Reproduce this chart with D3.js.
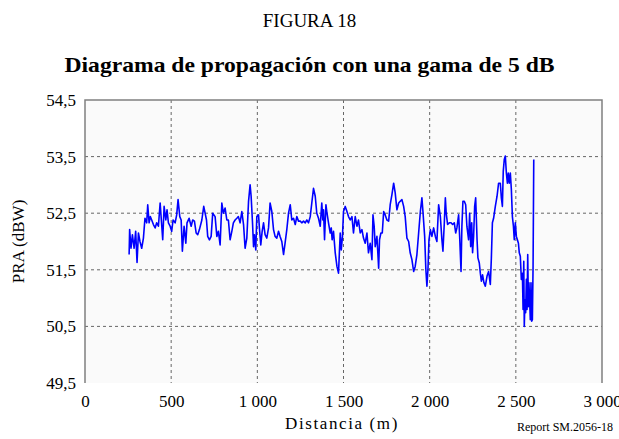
<!DOCTYPE html>
<html>
<head>
<meta charset="utf-8">
<script src="https://cdn.jsdelivr.net/npm/d3@7"></script>
<style>
  body { margin: 0; background: #fff; }
  svg { display: block; font-family: "Liberation Serif", "Times New Roman", serif; }
</style>
</head>
<body>
<svg id="chart"></svg>
<script>
// distance along the route (m) and received power (dBW)
const distancia = [
  256,259,267,275,285,294,302,310,319,329,339,348,358,364,372,379,387,397,407,416,
  426,436,443,451,459,469,476,484,494,503,511,523,532,540,550,558,565,575,585,592,
  604,616,625,635,645,654,664,678,689,697,705,712,722,732,741,
  755,765,774,784,794,803,813,823,832,842,852,861,871,881,890,900,910,920,929,939,
  949,958,964,972,978,983,991,997,1007,1012,1020,1028,1036,1045,1055,1065,1074,1084,1094,1103,
  1113,1123,1132,1142,1152,1161,1171,1181,1191,1200,1210,1220,1229,1239,1249,1258,1268,1278,1287,1297,
  1307,1316,1326,1336,1345,1355,
  1365,1374,1380,1384,1390,1398,1403,1413,1423,1429,1434,1442,1452,1462,1471,1481,1487,1494,1500,1510,
  1520,1529,1539,1549,1558,1568,1578,1587,1597,1607,1616,1626,1636,1645,1655,1665,1671,1678,1684,1694,
  1704,1709,1717,1725,1733,1742,1752,1762,1771,1781,1791,1800,1810,1820,1829,1839,1849,1858,1868,1878,
  1887,1897,1907,1916,1926,1936,1946,1955,1961,1971,1978,1984,1990,1996,2004,2013,2023,2033,2042,2052,
  2062,
  2071,2077,2085,2091,2096,2104,2114,2124,2133,2143,2151,2158,2168,2174,2182,2187,2193,2201,2209,2216,
  2226,2232,2238,2244,2249,2255,2261,2267,2275,2280,2288,2294,2300,2307,2315,2323,2333,2342,2352,2358,
  2364,2371,2381,2391,2400,2410,
  2416,2422,2427,2433,2439,2445,2451,2456,2462,2468,2474,2480,2486,2491,2497,2503,2509,2515,2520,2526,
  2532,2538,2542,2546,2549,2553,2557,2561,2565,2569,2573,2576,2580,2584,2588,2592,2596,2600,2604
];
const pra = [
  51.77,52.21,51.88,52.12,51.88,52.18,51.63,52.15,52.00,51.88,52.06,52.41,52.33,52.65,52.33,52.44,52.38,52.30,52.24,52.33,
  52.27,52.68,52.38,52.03,52.62,52.38,52.56,52.33,52.27,52.18,52.38,52.33,52.47,52.74,52.44,52.38,51.83,52.27,51.97,52.33,
  52.41,52.27,52.38,52.36,52.15,52.12,52.21,52.38,52.62,52.50,52.38,52.09,52.03,52.09,52.50,
  52.44,52.09,52.18,51.94,52.68,52.50,52.59,52.38,52.38,52.03,52.18,52.33,52.38,52.41,52.44,52.33,52.53,52.30,51.88,52.06,
  52.71,53.00,52.80,52.33,51.91,52.12,51.85,52.44,52.47,52.24,51.94,52.18,52.33,52.12,52.06,52.24,52.68,52.53,52.21,52.09,
  52.06,52.18,52.09,52.00,51.77,51.97,52.21,52.50,52.65,52.38,52.41,52.30,52.44,52.36,52.36,52.33,52.36,52.33,52.38,52.33,
  52.44,52.68,52.94,52.80,52.50,52.41,
  52.27,52.68,52.38,52.56,52.03,52.65,52.53,52.33,52.15,52.24,52.03,52.18,51.80,51.56,51.44,52.15,51.85,52.09,52.53,52.62,
  52.53,52.44,52.38,52.44,52.15,52.44,52.27,52.38,52.15,52.21,52.06,51.97,52.15,51.80,51.97,51.68,52.47,52.27,51.91,52.09,
  51.53,52.03,52.15,52.15,52.53,52.47,52.38,52.36,52.65,52.83,53.03,52.86,52.56,52.68,52.71,52.74,52.62,52.44,52.06,52.00,
  51.80,51.68,51.47,51.56,51.77,52.15,52.53,52.77,52.53,52.09,51.50,51.21,51.50,52.03,52.21,52.09,52.24,52.09,52.00,52.65,
  52.44,
  52.03,51.83,52.33,52.77,52.50,52.30,52.33,52.33,52.30,52.33,52.15,52.24,52.47,52.09,51.47,52.27,52.71,52.71,52.65,52.27,
  52.03,52.50,51.91,52.33,51.80,52.09,52.62,52.77,52.03,51.71,51.62,51.44,51.30,51.41,51.27,51.21,51.39,51.47,51.24,51.71,
  52.33,52.41,52.62,52.80,53.03,53.03,
  52.77,52.62,53.24,53.45,53.51,53.21,53.03,53.21,53.03,53.21,52.92,52.44,52.27,52.03,52.33,52.09,52.03,51.97,51.80,51.74,
  51.33,51.44,50.80,51.65,50.50,50.97,50.74,51.33,50.80,51.77,50.85,51.27,50.97,50.62,51.27,50.59,50.62,51.56,53.45
];
const xTicks = [0, 500, 1000, 1500, 2000, 2500, 3000];
const yTicks = [49.5, 50.5, 51.5, 52.5, 53.5, 54.5];

const width = 619, height = 439;
const margin = {top: 100, right: 17, bottom: 56, left: 85};

const svg = d3.select("#chart").attr("width", width).attr("height", height);

const x = d3.scaleLinear().domain([0, 3000]).range([margin.left, width - margin.right]);
const y = d3.scaleLinear().domain([49.5, 54.5]).range([height - margin.bottom, margin.top]);

// plot background
svg.append("rect")
  .attr("x", x(0)).attr("y", y(54.5))
  .attr("width", x(3000) - x(0)).attr("height", y(49.5) - y(54.5))
  .attr("fill", "#fafafa");

// grid
const grid = svg.append("g").attr("stroke", "#666").attr("stroke-width", 1).attr("stroke-dasharray", "3,3");
grid.selectAll("line.v").data(xTicks.slice(1, -1)).enter().append("line")
  .attr("x1", d => x(d)).attr("x2", d => x(d))
  .attr("y1", y(54.5)).attr("y2", y(49.5));
grid.selectAll("line.h").data(yTicks.slice(1, -1)).enter().append("line")
  .attr("x1", x(0)).attr("x2", x(3000))
  .attr("y1", d => y(d)).attr("y2", d => y(d));

// frame: left, top, right
svg.append("path")
  .attr("d", `M${x(0)},${y(49.5)}V${y(54.5)}H${x(3000)}V${y(49.5)}`)
  .attr("fill", "none").attr("stroke", "#808080").attr("stroke-width", 1.5);

// data line
const line = d3.line().x((d, i) => x(distancia[i])).y(d => y(d));
svg.append("path")
  .datum(pra)
  .attr("d", line)
  .attr("fill", "none")
  .attr("stroke", "#0000ff")
  .attr("stroke-width", 1.6)
  .attr("stroke-linejoin", "round");

// axes (labels only)
const fmtX = d => d3.format(",")(d).replace(",", " ");
const xAxis = svg.append("g").attr("transform", `translate(0,${y(49.5)})`)
  .call(d3.axisBottom(x).tickValues(xTicks).tickSize(0).tickPadding(12).tickFormat(fmtX));
xAxis.select(".domain").remove();
xAxis.selectAll("text").attr("font-size", 17).attr("font-family", "Liberation Serif").attr("fill", "#000");

const yAxis = svg.append("g").attr("transform", `translate(${x(0)},0)`)
  .call(d3.axisLeft(y).tickValues(yTicks).tickSize(0).tickPadding(9)
    .tickFormat(d => d3.format(".1f")(d).replace(".", ",")));
yAxis.select(".domain").remove();
yAxis.selectAll("text").attr("font-size", 17).attr("font-family", "Liberation Serif").attr("fill", "#000");

// titles
svg.append("text").attr("x", 309.5).attr("y", 27).attr("text-anchor", "middle")
  .attr("font-size", 19).text("FIGURA 18");
svg.append("text").attr("x", 309.5).attr("y", 72).attr("text-anchor", "middle")
  .attr("font-size", 22).attr("font-weight", "bold")
  .attr("textLength", 490).attr("lengthAdjust", "spacingAndGlyphs")
  .text("Diagrama de propagación con una gama de 5 dB");

svg.append("text").attr("transform", `translate(24,${(y(49.5) + y(54.5)) / 2}) rotate(-90)`)
  .attr("text-anchor", "middle").attr("font-size", 17).text("PRA (dBW)");
svg.append("text").attr("x", 342).attr("y", 429).attr("text-anchor", "middle")
  .attr("font-size", 17).attr("letter-spacing", 1.6)
  .text("Distancia (m)");
svg.append("text").attr("x", 613).attr("y", 431).attr("text-anchor", "end")
  .attr("font-size", 12).text("Report SM.2056-18");
</script>
</body>
</html>
